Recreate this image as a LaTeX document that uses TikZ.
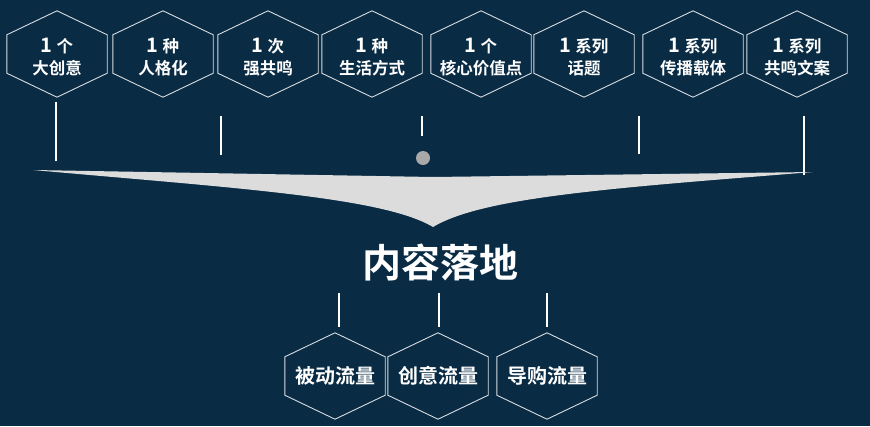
\documentclass[tikz,border=0pt]{standalone}
\usepackage{fontspec}
\newfontfamily\cjk{Noto Sans CJK SC}[BoldFont={Noto Sans CJK SC Bold}]
\definecolor{navy}{RGB}{9,43,68}
\definecolor{funnelgray}{RGB}{220,220,220}
\definecolor{dotgray}{RGB}{168,168,168}
\definecolor{edgegray}{RGB}{215,220,225}
\tikzstyle{hexbox} = [rectangle, minimum width=100pt, minimum height=86pt, inner sep=0pt]
\tikzstyle{hextext} = [text centered, align=center, text=white, font=\cjk\bfseries\fontsize{16.5}{22}\selectfont]
\tikzstyle{flowbox} = [hexbox, text=white, font=\cjk\bfseries\fontsize{20}{24}\selectfont]
\tikzstyle{hexedge} = [edgegray, line width=0.9pt]
\tikzstyle{stem} = [white, line width=1.1pt]
\newcommand{\hexframe}[1]{\draw[hexedge] (#1.north) -- ([yshift=-24pt]#1.north east) -- ([yshift=24pt]#1.south east) -- (#1.south) -- ([yshift=24pt]#1.south west) -- ([yshift=-24pt]#1.north west) -- cycle;}

\begin{document}
\begin{tikzpicture}[x=1pt, y=-1pt]

% background
\fill[navy] (0,0) rectangle (870,426);

% top row of hexagons
\foreach \x/\cnt/\what [count=\i] in {57/个/大创意, 163/种/人格化, 268/次/强共鸣, 372/种/生活方式, 481/个/核心价值点, 584/系列/话题, 693/系列/传播载体, 797/系列/共鸣文案}{
  \node[hexbox] (idea\i) at (\x,54) {};
  \node[hextext] (ideatext\i) at ([yshift=-3pt]idea\i) {{\fontsize{20}{22}\selectfont 1} \cnt\\\what};
  \hexframe{idea\i}
}

% stems above the funnel
\foreach \x/\ya/\yb [count=\i] in {56/102/161, 221/116/155, 422/116/136, 639/116/154, 804/116/175}{
  \coordinate (up\i) at (\x,\ya);
  \coordinate (dn\i) at (\x,\yb);
  \draw[stem] (up\i) -- (dn\i);
}
\node[circle, fill=dotgray, minimum size=14pt, inner sep=0pt] (hub) at (423,158) {};

% funnel
\coordinate (fl) at (33,170);
\coordinate (fm) at (433,177);
\coordinate (fr) at (813,172);
\coordinate (tip) at (433,227);
\fill[funnelgray] (fl) -- (fm) -- (fr) .. controls (613,188) and (483,197) .. (tip) .. controls (383,197) and (233,188) .. (fl) -- cycle;

% content
\node[text=white, font=\cjk\bfseries\fontsize{39}{40}\selectfont] (content) at (440,262) {内容落地};

% traffic hexagons
\node[flowbox] (passive) at (335,376) {被动流量};
\node[flowbox] (creative) at (438,376) {创意流量};
\node[flowbox] (shopping) at (547,376) {导购流量};
\foreach \n/\dx in {passive/4, creative/1, shopping/0}{
  \hexframe{\n}
  \draw[stem] ([xshift=\dx pt, yshift=6pt]\n.north) -- ([xshift=\dx pt, yshift=40pt]\n.north);
}

\end{tikzpicture}
\end{document}
